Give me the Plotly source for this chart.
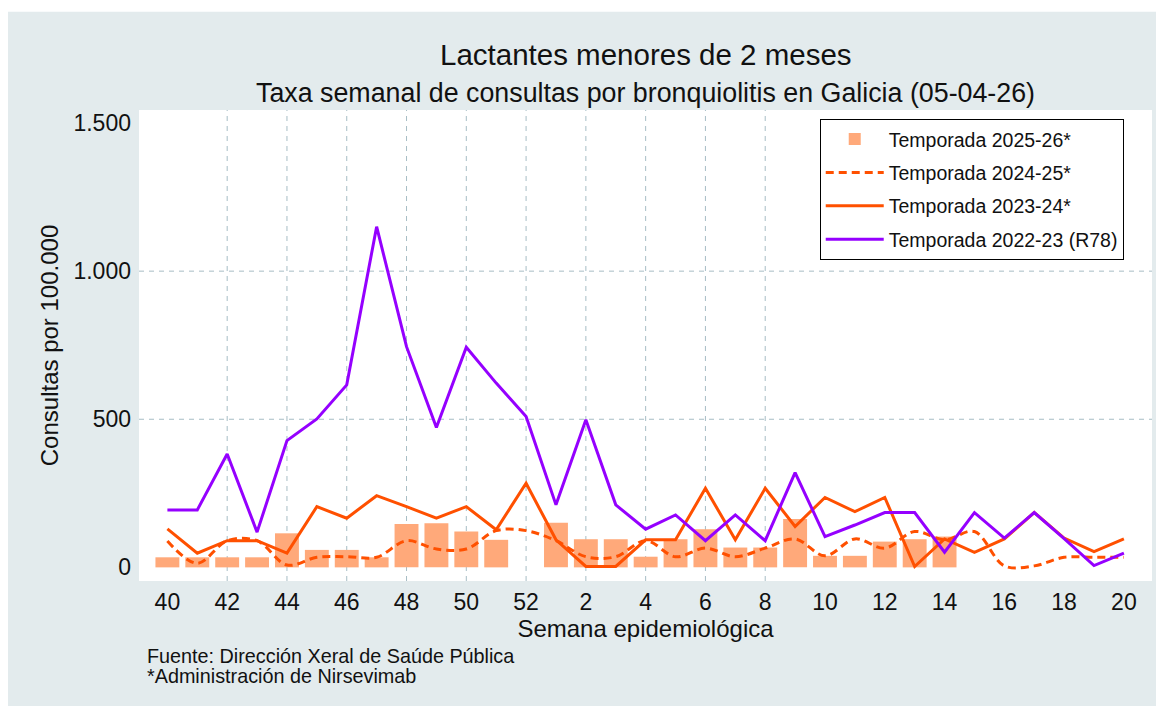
import plotly.graph_objects as go

# ---------------- data ----------------
weeks = ["40", "41", "42", "43", "44", "45", "46", "47", "48", "49", "50", "51", "52",
         "1", "2", "3", "4", "5", "6", "7", "8", "9", "10", "11", "12", "13", "14",
         "15", "16", "17", "18", "19", "20"]

tick_labels = ["40", "42", "44", "46", "48", "50", "52", "2", "4", "6", "8",
               "10", "12", "14", "16", "18", "20"]

y_tickvals = [0, 500, 1000, 1500]
y_ticktext = ["0", "500", "1.000", "1.500"]
y_gridvals = [500, 1000]

# Temporada 2025-26* (bars, weeks 40..14)
s2526 = [34, 34, 34, 34, 115, 59, 59, 34, 146, 149, 121, 93, None,
         151, 95, 95, 36, 95, 129, 67, 67, 163, 39, 39, 87, 95, 104]

# Temporada 2024-25* (dashed)
s2425 = [89, 14, 90, 90, 8, 34, 36, 34, 90, 62, 62, 124, 124,
         90, 36, 36, 90, 36, 65, 36, 65, 96, 39, 96, 65, 121, 93,
         121, 5, 5, 34, 34, 34]

# Temporada 2023-24* (solid)
s2324 = [130, 48, 90, 90, 48, 205, 166, 242, 205, 166, 205, 127, 284,
         93, 3, 3, 93, 93, 267, 93, 267, 138, 236, 188, 236, 3, 96,
         51, 96, 185, 99, 53, 96]

# Temporada 2022-23 (R78)
s2223 = [194, 194, 383, 119, 428, 501, 616, 1150, 745, 472, 743, 622, 509,
         211, 498, 211, 129, 177, 90, 177, 90, 320, 104, 143, 185, 185, 51,
         185, 99, 185, 97, 6, 48]

names = ["Temporada 2025-26*", "Temporada 2024-25*", "Temporada 2023-24*",
         "Temporada 2022-23 (R78)"]

# ---------------- styles ----------------
FONT = "Liberation Sans, Arial, sans-serif"
BAR_COLOR = "#FFA97A"
ORANGE = "#FF5000"
PURPLE = "#9500FF"
GRID = "#A7BDC5"
BG = "#E3EBED"
TXT = "#111111"

fig = go.Figure()

fig.add_trace(go.Bar(
    x=weeks[:len(s2526)], y=s2526, name=names[0], legendgroup="a",
    marker=dict(color=BAR_COLOR, line=dict(width=0)), width=0.8,
))
fig.add_trace(go.Scatter(
    x=weeks, y=s2425, name=names[1], legendgroup="b", mode="lines",
    line=dict(color=ORANGE, width=3, dash="8px,5px", shape="spline", smoothing=1),
))
fig.add_trace(go.Scatter(
    x=weeks, y=s2324, name=names[2], legendgroup="c", mode="lines",
    line=dict(color=ORANGE, width=3),
))
fig.add_trace(go.Scatter(
    x=weeks, y=s2223, name=names[3], legendgroup="d", mode="lines",
    line=dict(color=PURPLE, width=3),
))

shapes = []
# white strip at the very top of the page
shapes.append(dict(type="rect", xref="paper", yref="paper", x0=-0.3, x1=1.1,
                   y0=1.2085, y1=1.3, fillcolor="white", line=dict(width=0),
                   layer="below"))
# grid lines (excluding the axis end values)
for t in tick_labels[1:]:
    shapes.append(dict(type="line", xref="x", yref="paper", x0=t, x1=t, y0=0, y1=1,
                       line=dict(color=GRID, width=1, dash="5px,5px"), layer="below"))
for v in y_gridvals:
    shapes.append(dict(type="line", xref="paper", yref="y", x0=0, x1=1, y0=v, y1=v,
                       line=dict(color=GRID, width=1, dash="5px,5px"), layer="below"))

annotations = [
    dict(text="Lactantes menores de 2 meses", xref="paper", yref="paper",
         x=0.5, y=1.1168, xanchor="center", yanchor="middle", showarrow=False,
         font=dict(family=FONT, size=29.5, color=TXT)),
    dict(text="Taxa semanal de consultas por bronquiolitis en Galicia (05-04-26)",
         xref="paper", yref="paper", x=0.5, y=1.036, xanchor="center",
         yanchor="middle", showarrow=False,
         font=dict(family=FONT, size=26.8, color=TXT)),
    dict(text="Fuente: Dirección Xeral de Saúde Pública", xref="paper", yref="paper",
         x=0.006, y=-0.159, xanchor="left", yanchor="middle", showarrow=False,
         font=dict(family=FONT, size=19.8, color=TXT)),
    dict(text="*Administración de Nirsevimab", xref="paper", yref="paper",
         x=0.006, y=-0.2017, xanchor="left", yanchor="middle", showarrow=False,
         font=dict(family=FONT, size=19.8, color=TXT)),
]

fig.update_layout(
    width=1156, height=698,
    margin=dict(l=131, r=12, t=102, b=125),
    paper_bgcolor=BG, plot_bgcolor="white",
    font=dict(family=FONT, color=TXT),
    showlegend=True,
    legend=dict(
        x=0.672, y=0.981, xanchor="left", yanchor="top",
        bgcolor="white", bordercolor="black", borderwidth=1,
        font=dict(family=FONT, size=19.5, color=TXT),
        itemwidth=58, tracegroupgap=5, traceorder="grouped",
    ),
    shapes=shapes,
    annotations=annotations,
)

fig.update_xaxes(
    type="category", categoryorder="array", categoryarray=weeks,
    range=[-0.95, 32.94], tickmode="array", tickvals=tick_labels, ticktext=tick_labels,
    showgrid=False, zeroline=False, showline=False, ticks="",
    ticklabelstandoff=5,
    tickfont=dict(family=FONT, size=23, color=TXT),
    title=dict(text="Semana epidemiológica", standoff=0,
               font=dict(family=FONT, size=24, color=TXT)),
)
fig.update_yaxes(
    range=[-46, 1544], tickmode="array", tickvals=y_tickvals, ticktext=y_ticktext,
    showgrid=False, zeroline=False, showline=False, ticks="",
    ticklabelstandoff=7,
    tickfont=dict(family=FONT, size=23, color=TXT),
    title=dict(text="Consultas por 100.000", standoff=8,
               font=dict(family=FONT, size=24, color=TXT)),
)

fig.write_html("out.html")
